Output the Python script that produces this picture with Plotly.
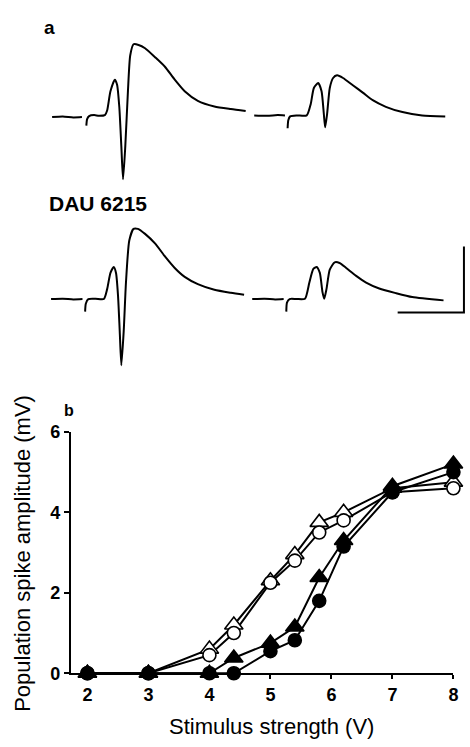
import plotly.graph_objects as go

# ---------------- Panel b data ----------------
STIM_V = [2, 3, 4, 4.4, 5, 5.4, 5.8, 6.2, 7, 8]
OPEN_TRIANGLE = [0, 0, 0.6, 1.2, 2.3, 2.95, 3.75, 4.0, 4.6, 4.75]
OPEN_CIRCLE = [0, 0, 0.45, 1.0, 2.25, 2.8, 3.5, 3.8, 4.5, 4.6]
FILLED_CIRCLE = [0, 0, 0, 0, 0.55, 0.82, 1.8, 3.15, 4.5, 5.0]
FILLED_TRIANGLE = [0, 0, 0, 0.38, 0.75, 1.15, 2.38, 3.3, 4.65, 5.2]
X_TICKS = [2, 3, 4, 5, 6, 7, 8]
Y_TICKS = [0, 2, 4, 6]

# ---------------- Panel a data (time ms, voltage mV; None = gap) ----------------
TOP_LEFT_T = [0.2, 1.0, 1.8, 2.45, None, 2.78, 2.84, 2.99, 3.36, 3.73, 4.18, 4.35, 4.6, 4.93, 5.1,
              5.27, 5.42, 5.55, 5.72, 5.92, 6.09, 6.34, 6.72, 7.21, 7.96, 8.71, 9.45, 10.2,
              11.19, 12.44, 13.68, 14.8]
TOP_LEFT_V = [0, 0.02, -0.01, 0, None, -0.26, -0.06, 0.03, 0.06, 0.04, 0.06, 0.2, 0.78, 1.13, 0.98,
              0.29, -0.88, -1.88, -0.88, 0.79, 1.86, 2.2, 2.18, 2.08, 1.81, 1.52, 1.13, 0.78,
              0.49, 0.32, 0.24, 0.18]

TOP_RIGHT_T = [0.22, 1.2, 2.0, 2.54, None, 2.74, 2.79, 2.93, 3.43, 4.18, 4.48, 4.72, 5.05, 5.3,
               5.47, 5.57, 5.72, 5.92, 6.17, 6.47, 6.92, 7.66, 8.41, 9.16, 10.15, 11.4,
               12.89, 14.63]
TOP_RIGHT_V = [0.05, 0.04, 0.06, 0.05, None, -0.34, -0.1, 0.02, 0.05, 0.05, 0.39, 0.88, 1.03, 0.78,
               0.1, -0.31, 0.1, 0.88, 1.18, 1.26, 1.18, 0.96, 0.74, 0.51, 0.31, 0.15,
               0.05, 0.02]

BOTTOM_LEFT_T = [0.12, 1.0, 1.8, 2.49, None, 2.69, 2.74, 2.93, 3.48, 4.1, 4.35, 4.6, 4.85, 5.02,
                 5.17, 5.3, 5.42, 5.6, 5.77, 6.02, 6.34, 6.67, 7.21, 7.96, 8.71, 9.45, 10.2,
                 11.19, 12.44, 13.68, 14.68]
BOTTOM_LEFT_V = [0, 0.01, -0.01, 0, None, -0.38, -0.14, 0, 0.01, 0, 0.3, 0.79, 0.97, 0.79,
                 0.11, -0.97, -2.0, -0.97, 0.5, 1.77, 2.12, 2.12, 1.97, 1.68, 1.29, 0.94, 0.67,
                 0.45, 0.28, 0.19, 0.13]

BOTTOM_RIGHT_T = [0.07, 1.0, 1.8, 2.44, None, 2.64, 2.69, 2.89, 3.43, 4.05, 4.38, 4.68, 4.93, 5.17,
                  5.37, 5.5, 5.67, 5.92, 6.29, 6.66, 7.16, 7.91, 8.66, 9.65, 10.9, 12.14, 14.5]
BOTTOM_RIGHT_V = [0, 0.01, -0.01, 0, None, -0.38, -0.11, 0, 0, 0.01, 0.5, 0.91, 0.97, 0.79,
                  0.21, 0.01, 0.3, 0.89, 1.11, 1.09, 0.94, 0.7, 0.5, 0.32, 0.18, 0.06, -0.04]

SCALE_MS = 5
SCALE_MV = 2
SCALE_END_T = 16.04
SCALE_BASE_V = -0.41

W, H = 470, 747


def px_x(a, b):
    return [a / W, b / W]


def px_y(top, bottom):
    return [(H - bottom) / H, (H - top) / H]


fig = go.Figure()

trace_line = dict(color="black", width=2, shape="spline", smoothing=0.6)
for t, v, xa, ya in [
    (TOP_LEFT_T, TOP_LEFT_V, "x2", "y2"),
    (TOP_RIGHT_T, TOP_RIGHT_V, "x3", "y2"),
    (BOTTOM_LEFT_T, BOTTOM_LEFT_V, "x2", "y3"),
    (BOTTOM_RIGHT_T, BOTTOM_RIGHT_V, "x3", "y3"),
]:
    fig.add_trace(go.Scatter(x=t, y=v, xaxis=xa, yaxis=ya, mode="lines",
                             line=trace_line, connectgaps=False, showlegend=False,
                             hoverinfo="skip"))

# scale bar
fig.add_trace(go.Scatter(
    x=[SCALE_END_T - SCALE_MS, SCALE_END_T, SCALE_END_T],
    y=[SCALE_BASE_V, SCALE_BASE_V, SCALE_BASE_V + SCALE_MV],
    xaxis="x3", yaxis="y3", mode="lines",
    line=dict(color="black", width=2), showlegend=False, hoverinfo="skip"))

# Panel b lines first, then markers on top
series = [
    (OPEN_TRIANGLE, "triangle-up", "white", 16),
    (OPEN_CIRCLE, "circle", "white", 13),
    (FILLED_CIRCLE, "circle", "black", 13),
    (FILLED_TRIANGLE, "triangle-up", "black", 16),
]
for ys, _, _, _ in series:
    fig.add_trace(go.Scatter(x=STIM_V, y=ys, mode="lines",
                             line=dict(color="black", width=2),
                             showlegend=False, cliponaxis=False))
for ys, sym, fill, size in series:
    fig.add_trace(go.Scatter(x=STIM_V, y=ys, mode="markers",
                             marker=dict(symbol=sym, size=size, color=fill,
                                         line=dict(color="black", width=1.6)),
                             showlegend=False, cliponaxis=False))

hidden = dict(visible=False, fixedrange=True)
tickfont = dict(size=18, family="Liberation Sans, Arial", weight="bold")
fig.update_layout(
    width=W, height=H,
    margin=dict(l=0, r=0, t=0, b=0),
    paper_bgcolor="white", plot_bgcolor="white",
    font=dict(family="Liberation Sans, Arial, sans-serif", color="black"),
    xaxis=dict(domain=px_x(71.7, 458.3), range=[1.73, 8], tickvals=X_TICKS,
               showline=True, linecolor="black", linewidth=2,
               ticks="outside", ticklen=4, tickwidth=2, tickcolor="black",
               showgrid=False, zeroline=False, tickfont=tickfont),
    yaxis=dict(domain=px_y(433.5, 681.5), range=[0, 6], tickvals=Y_TICKS,
               showline=True, linecolor="black", linewidth=2,
               ticks="outside", ticklen=5, tickwidth=2, tickcolor="black",
               showgrid=False, zeroline=False, tickfont=tickfont),
    xaxis2=dict(domain=px_x(50, 251), range=[0, 15], anchor="y2", **hidden),
    xaxis3=dict(domain=px_x(254, 470), range=[0, 16.12], anchor="y2", **hidden),
    yaxis2=dict(domain=px_y(25, 195), range=[-2.5, 2.5], anchor="x2", **hidden),
    yaxis3=dict(domain=px_y(212, 382), range=[-2.5, 2.5], anchor="x2", **hidden),
    annotations=[
        dict(text="a", x=50 / W, y=(H - 18) / H, xref="paper", yref="paper",
             showarrow=False, font=dict(size=19, weight="bold"),
             xanchor="center", yanchor="middle"),
        dict(text="DAU 6215", x=48 / W, y=(H - 199) / H, xref="paper", yref="paper",
             showarrow=False, font=dict(size=21, weight="bold"),
             xanchor="left", yanchor="middle"),
        dict(text="b", x=70 / W, y=(H - 412) / H, xref="paper", yref="paper",
             showarrow=False, font=dict(size=16, weight="bold"),
             xanchor="center", yanchor="middle"),
        dict(text="Population spike amplitude (mV)", x=22 / W, y=(H - 558) / H,
             xref="paper", yref="paper", showarrow=False, textangle=-90,
             font=dict(size=22), xanchor="center", yanchor="middle"),
        dict(text="Stimulus strength (V)", x=274 / W, y=(H - 736) / H,
             xref="paper", yref="paper", showarrow=False,
             font=dict(size=22), xanchor="center", yanchor="middle"),
    ],
)

fig.write_html("out.html", config={"displayModeBar": False},
               post_script="document.body.style.margin='0';document.body.style.overflow='hidden';")
